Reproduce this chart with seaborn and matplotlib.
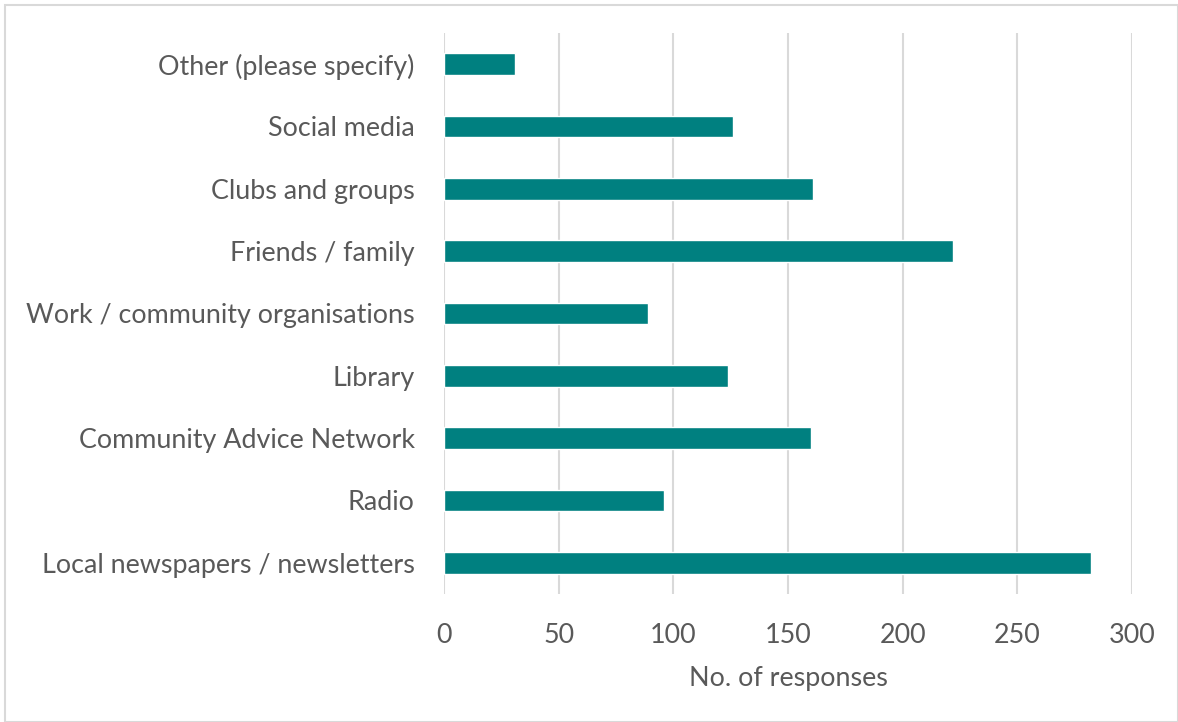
import matplotlib
matplotlib.use("Agg")
import matplotlib.pyplot as plt
from matplotlib.patches import Rectangle
import seaborn as sns
import pandas as pd

# Sources through which respondents heard about the service
sources = [
    "Other (please specify)",
    "Social media",
    "Clubs and groups",
    "Friends / family",
    "Work / community organisations",
    "Library",
    "Community Advice Network",
    "Radio",
    "Local newspapers / newsletters",
]
responses = [31, 126, 161, 222, 89, 124, 160, 96, 282]
x_ticks = [0, 50, 100, 150, 200, 250, 300]

df = pd.DataFrame({"source": sources, "responses": responses})

sns.set_theme(style="white")
plt.rcParams["font.family"] = ["Lato", "DejaVu Sans"]

text_color = "#595959"
bar_color = "#008080"
grid_color = "#d9d9d9"
font_size = 19.4

fig = plt.figure(figsize=(11.78, 7.22), dpi=100)
ax = fig.add_axes([444 / 1178, 1 - 594 / 722, (1132 - 444) / 1178, (594 - 33) / 722])

sns.barplot(data=df, x="responses", y="source", order=sources,
            color=bar_color, width=0.35, saturation=1, ax=ax, zorder=3)

ax.set_xlim(0, 300)
ax.set_xticks(x_ticks)
ax.xaxis.grid(True, color=grid_color, linewidth=1.5, zorder=0)
ax.yaxis.grid(False)
for s in ax.spines.values():
    s.set_visible(False)

ax.tick_params(axis="both", length=0, labelsize=font_size, labelcolor=text_color)
ax.tick_params(axis="x", pad=21)
ax.tick_params(axis="y", pad=21)
ax.set_ylabel("")
ax.set_xlabel("No. of responses", fontsize=font_size, color=text_color, labelpad=13)

# Light frame around the whole chart
fig.patches.append(Rectangle((5 / 1178, 0), 1 - 5 / 1178, 1 - 5 / 722,
                             transform=fig.transFigure, fill=False,
                             edgecolor=grid_color, linewidth=1.5))

fig.savefig("out.png", dpi=100)
